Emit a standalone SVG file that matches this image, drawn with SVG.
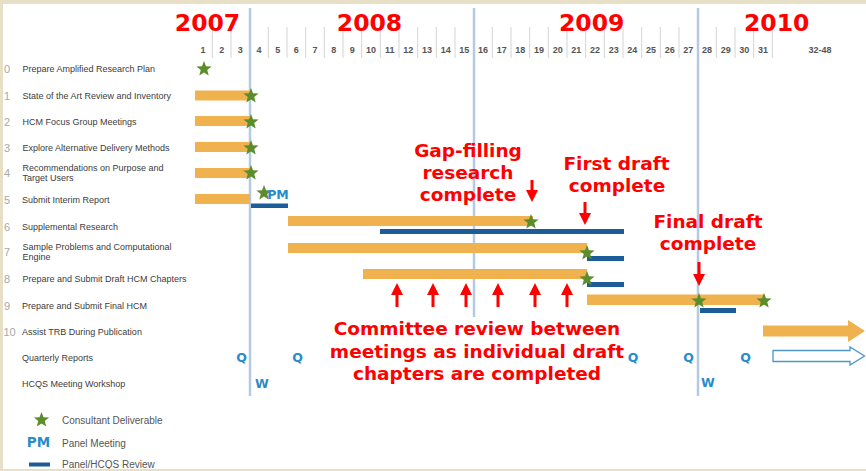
<svg xmlns="http://www.w3.org/2000/svg" width="866" height="471" viewBox="0 0 866 471">
  <style>
    .lbl { font-family: "Liberation Sans", Arial, sans-serif; font-size: 9px; fill: #3c3c3c; }
    .num { font-family: "Liberation Sans", Arial, sans-serif; font-size: 11px; fill: #a8a8a8; }
    .col { font-family: "Liberation Sans", Arial, sans-serif; font-size: 9px; font-weight: bold; fill: #555; text-anchor: middle; }
    .year { font-family: "DejaVu Sans", Verdana, sans-serif; font-size: 23.5px; font-weight: bold; fill: #ff0000; text-anchor: middle; }
    .note { font-family: "DejaVu Sans", Verdana, sans-serif; font-size: 18.5px; font-weight: bold; fill: #ff0000; text-anchor: middle; }
    .mark { font-family: "DejaVu Sans", Verdana, sans-serif; font-size: 12.5px; font-weight: bold; fill: #2a8bc9; text-anchor: middle; }
    .leg { font-family: "Liberation Sans", Arial, sans-serif; font-size: 10px; fill: #555; }
    .task { fill: #efb24f; }
    .review { fill: #1c5d99; }
    .grid { stroke: #d4d4d4; stroke-width: 1; }
    .yearline { stroke: #b2cae3; stroke-width: 2.5; }
    .red { fill: #ff0000; }
  </style>
  <defs>
    <path id="star" d="M0,-8 L2,-2.75 L7.61,-2.47 L3.23,1.05 L4.7,6.47 L0,3.4 L-4.7,6.47 L-3.23,1.05 L-7.61,-2.47 L-2,-2.75 Z" fill="#5c8d2c"/>
  </defs>

  <!-- frame -->
  <rect x="0" y="0" width="866" height="471" fill="#e7dfc6"/>
  <rect x="3" y="4" width="863" height="465" fill="#ffffff"/>

  <!-- month header -->
  <g id="header">
    <g class="grid">
      <line x1="212.3" y1="27" x2="212.3" y2="58"/><line x1="231" y1="27" x2="231" y2="58"/>
      <line x1="268.3" y1="27" x2="268.3" y2="58"/><line x1="287" y1="27" x2="287" y2="58"/>
      <line x1="305.7" y1="27" x2="305.7" y2="58"/><line x1="324.3" y1="27" x2="324.3" y2="58"/>
      <line x1="343" y1="27" x2="343" y2="58"/><line x1="361.7" y1="27" x2="361.7" y2="58"/>
      <line x1="380.3" y1="27" x2="380.3" y2="58"/><line x1="399" y1="27" x2="399" y2="58"/>
      <line x1="417.7" y1="27" x2="417.7" y2="58"/><line x1="436.3" y1="27" x2="436.3" y2="58"/>
      <line x1="455" y1="27" x2="455" y2="58"/><line x1="492.3" y1="27" x2="492.3" y2="58"/>
      <line x1="511" y1="27" x2="511" y2="58"/><line x1="529.7" y1="27" x2="529.7" y2="58"/>
      <line x1="548.3" y1="27" x2="548.3" y2="58"/><line x1="567" y1="27" x2="567" y2="58"/>
      <line x1="585.7" y1="27" x2="585.7" y2="58"/><line x1="604.3" y1="27" x2="604.3" y2="58"/>
      <line x1="623" y1="27" x2="623" y2="58"/><line x1="641.7" y1="27" x2="641.7" y2="58"/>
      <line x1="660.3" y1="27" x2="660.3" y2="58"/><line x1="679" y1="27" x2="679" y2="58"/>
      <line x1="716.3" y1="27" x2="716.3" y2="58"/><line x1="735" y1="27" x2="735" y2="58"/>
      <line x1="753.7" y1="27" x2="753.7" y2="58"/><line x1="772.3" y1="27" x2="772.3" y2="58"/>
    </g>
    <line class="yearline" x1="250" y1="8" x2="250" y2="396"/>
    <line class="yearline" x1="474" y1="8" x2="474" y2="317"/>
    <line class="yearline" x1="698" y1="8" x2="698" y2="396"/>
    <text class="year" x="207.5" y="31">2007</text>
    <text class="year" x="369.5" y="31">2008</text>
    <text class="year" x="591.7" y="31">2009</text>
    <text class="year" x="776.7" y="31">2010</text>
    <text class="col" y="52.5">
      <tspan x="203">1</tspan><tspan x="221.7">2</tspan><tspan x="240.3">3</tspan><tspan x="259">4</tspan><tspan x="277.7">5</tspan><tspan x="296.3">6</tspan><tspan x="315">7</tspan><tspan x="333.7">8</tspan><tspan x="352.3">9</tspan><tspan x="371">10</tspan><tspan x="389.7">11</tspan><tspan x="408.3">12</tspan><tspan x="427">13</tspan><tspan x="445.7">14</tspan><tspan x="464.3">15</tspan><tspan x="483">16</tspan><tspan x="501.7">17</tspan><tspan x="520.3">18</tspan><tspan x="539">19</tspan><tspan x="557.7">20</tspan><tspan x="576.3">21</tspan><tspan x="595">22</tspan><tspan x="613.7">23</tspan><tspan x="632.3">24</tspan><tspan x="651">25</tspan><tspan x="669.7">26</tspan><tspan x="688.3">27</tspan><tspan x="707">28</tspan><tspan x="725.7">29</tspan><tspan x="744.3">30</tspan><tspan x="763">31</tspan><tspan x="820">32-48</tspan>
    </text>
  </g>

  <!-- task rows -->
  <g id="task-0">
    <text class="num" x="4" y="73">0</text>
    <text class="lbl" x="22.5" y="72">Prepare Amplified Research Plan</text>
    <use href="#star" x="204" y="69"/>
  </g>
  <g id="task-1">
    <text class="num" x="4" y="99.5">1</text>
    <text class="lbl" x="22.5" y="99">State of the Art Review and Inventory</text>
    <rect class="task" x="195" y="90.5" width="55" height="10"/>
    <use href="#star" x="251" y="96"/>
  </g>
  <g id="task-2">
    <text class="num" x="4" y="125.5">2</text>
    <text class="lbl" x="22.5" y="125">HCM Focus Group Meetings</text>
    <rect class="task" x="195" y="116" width="55" height="10"/>
    <use href="#star" x="251" y="122"/>
  </g>
  <g id="task-3">
    <text class="num" x="4" y="151.5">3</text>
    <text class="lbl" x="22.5" y="150.5">Explore Alternative Delivery Methods</text>
    <rect class="task" x="195" y="142" width="55" height="10"/>
    <use href="#star" x="251" y="148"/>
  </g>
  <g id="task-4">
    <text class="num" x="4" y="177">4</text>
    <text class="lbl" x="22.5" y="171">Recommendations on Purpose and</text>
    <text class="lbl" x="22.5" y="181">Target Users</text>
    <rect class="task" x="195" y="168" width="55" height="10"/>
    <use href="#star" x="251" y="173"/>
  </g>
  <g id="task-5">
    <text class="num" x="4" y="204">5</text>
    <text class="lbl" x="22" y="203">Submit Interim Report</text>
    <rect class="task" x="195" y="194" width="55" height="10"/>
    <rect class="review" x="251" y="203.5" width="37" height="4.5"/>
    <use href="#star" x="264" y="193"/>
    <text class="mark" x="278" y="199">PM</text>
  </g>
  <g id="task-6">
    <text class="num" x="4" y="230.5">6</text>
    <text class="lbl" x="22" y="230">Supplemental Research</text>
    <rect class="task" x="288" y="216" width="245" height="10"/>
    <rect class="review" x="380" y="229" width="244" height="5"/>
    <use href="#star" x="531" y="222"/>
  </g>
  <g id="task-7">
    <text class="num" x="4" y="255.5">7</text>
    <text class="lbl" x="22.5" y="250">Sample Problems and Computational</text>
    <text class="lbl" x="22.5" y="260">Engine</text>
    <rect class="task" x="288" y="243" width="299" height="10"/>
    <rect class="review" x="587" y="256" width="37" height="5"/>
    <use href="#star" x="587" y="253"/>
  </g>
  <g id="task-8">
    <text class="num" x="4" y="283">8</text>
    <text class="lbl" x="22.5" y="282">Prepare and Submit Draft HCM Chapters</text>
    <rect class="task" x="363" y="269" width="224" height="10"/>
    <rect class="review" x="587" y="282" width="37" height="5"/>
    <use href="#star" x="587" y="279"/>
  </g>
  <g id="task-9">
    <text class="num" x="4" y="310">9</text>
    <text class="lbl" x="22" y="309">Prepare and Submit Final HCM</text>
    <rect class="task" x="587" y="294.5" width="178" height="10.5"/>
    <rect class="review" x="700" y="308" width="36" height="5"/>
    <use href="#star" x="699" y="301"/>
    <use href="#star" x="764" y="301"/>
  </g>
  <g id="task-10">
    <text class="num" x="3.5" y="335.5">10</text>
    <text class="lbl" x="22" y="335">Assist TRB During Publication</text>
    <path class="task" d="M763,325.5 H848 V320 L865,331 L848,342 V336.5 H763 Z"/>
  </g>
  <g id="quarterly-reports">
    <text class="lbl" x="22" y="361">Quarterly Reports</text>
    <text class="mark" x="241.5" y="361.5">Q</text>
    <text class="mark" x="297.5" y="361.5">Q</text>
    <text class="mark" x="633" y="361.5">Q</text>
    <text class="mark" x="688.5" y="361.5">Q</text>
    <text class="mark" x="745.5" y="361.5">Q</text>
    <path d="M773,350.5 H850 V347 L864.5,356 L850,365 V361.5 H773 Z" fill="#ffffff" stroke="#4d97cb" stroke-width="1.3"/>
  </g>
  <g id="hcqs-workshop">
    <text class="lbl" x="22" y="387">HCQS Meeting Workshop</text>
    <text class="mark" x="262" y="387.5">W</text>
    <text class="mark" x="708" y="387">W</text>
  </g>

  <!-- callout arrows -->
  <g id="connectors" class="red">
    <path d="M530.5,180 H533.5 V190 H538 L532,202 L526,190 H530.5 Z"/>
    <path d="M583.5,202 H586.5 V213 H591 L585,225 L579,213 H583.5 Z"/>
    <path d="M697.5,262 H700.5 V274 H705 L699,286 L693,274 H697.5 Z"/>
    <path d="M395.5,307 H398.5 V295 H403 L397,283 L391,295 H395.5 Z"/>
    <path d="M431.5,307 H434.5 V295 H439 L433,283 L427,295 H431.5 Z"/>
    <path d="M464.5,307 H467.5 V295 H472 L466,283 L460,295 H464.5 Z"/>
    <path d="M496.5,307 H499.5 V295 H504 L498,283 L492,295 H496.5 Z"/>
    <path d="M533.5,307 H536.5 V295 H541 L535,283 L529,295 H533.5 Z"/>
    <path d="M565.5,307 H568.5 V295 H573 L567,283 L561,295 H565.5 Z"/>
  </g>

  <!-- callout notes -->
  <g id="note-gap-filling">
    <text class="note" x="468" y="157">Gap-filling</text>
    <text class="note" x="468" y="179">research</text>
    <text class="note" x="468" y="201">complete</text>
  </g>
  <g id="note-first-draft">
    <text class="note" x="616.5" y="170">First draft</text>
    <text class="note" x="617" y="192">complete</text>
  </g>
  <g id="note-final-draft">
    <text class="note" x="708" y="228">Final draft</text>
    <text class="note" x="708" y="250">complete</text>
  </g>
  <g id="note-committee">
    <text class="note" x="477" y="335">Committee review between</text>
    <text class="note" x="477" y="358">meetings as individual draft</text>
    <text class="note" x="477" y="380">chapters are completed</text>
  </g>

  <!-- legend -->
  <g id="legend">
    <use href="#star" x="41.5" y="420"/>
    <text class="leg" x="62" y="424">Consultant Deliverable</text>
    <text class="mark" x="38.5" y="446.5" style="font-size:13.5px">PM</text>
    <text class="leg" x="62" y="447">Panel Meeting</text>
    <rect class="review" x="29" y="462.5" width="21" height="4"/>
    <text class="leg" x="62" y="468">Panel/HCQS Review</text>
  </g>
  <rect x="0" y="469" width="866" height="2" fill="#e7dfc6"/>
</svg>
